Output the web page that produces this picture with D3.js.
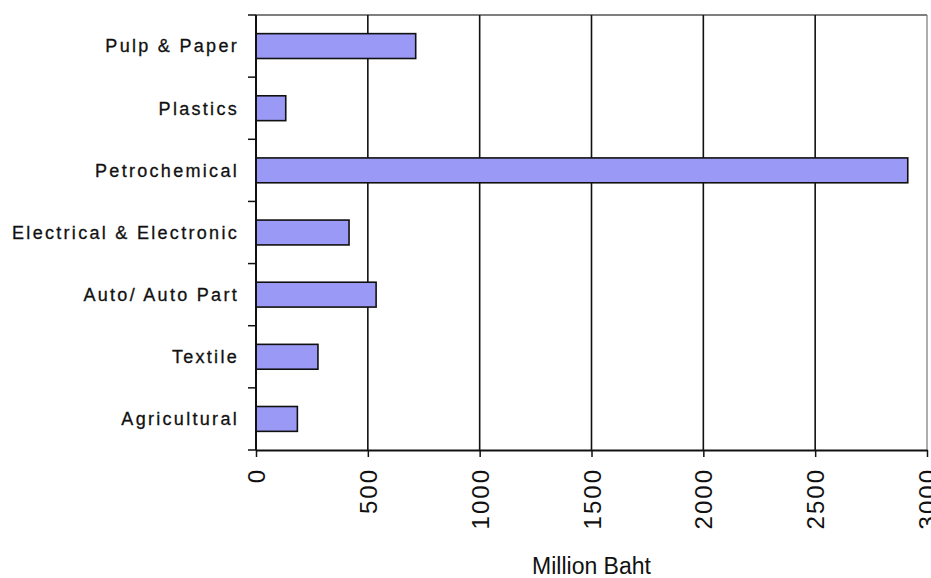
<!DOCTYPE html>
<html>
<head>
<meta charset="utf-8">
<script src="https://cdn.jsdelivr.net/npm/d3@7"></script>
<style>
  html, body { margin: 0; padding: 0; background: #ffffff; }
  svg { display: block; }
  text { font-family: "Liberation Sans", Arial, sans-serif; fill: #111; }
</style>
</head>
<body>
<svg id="chart" width="931" height="578"></svg>
<script>
const categories = ["Pulp & Paper", "Plastics", "Petrochemical", "Electrical & Electronic", "Auto/ Auto Part", "Textile", "Agricultural"];
const values = [714, 133, 2914, 416, 537, 277, 185];
const xTicks = [0, 500, 1000, 1500, 2000, 2500, 3000];
const xTitle = "Million Baht";

(function () {
const W = 931, H = 578;
const margin = { left: 256, right: 4, top: 15, bottom: 128 };
const svg = d3.select("#chart");
const x = d3.scaleLinear().domain([0, 3000]).range([margin.left, W - margin.right]);
const y = d3.scaleBand().domain(categories).range([margin.top, H - margin.bottom]).paddingInner(0.6).paddingOuter(0.3);
const yEdge = d3.scaleBand().domain(categories).range([margin.top, H - margin.bottom]).padding(0);

const yTop = margin.top, yBottom = H - margin.bottom;

// plot border (top and right)
svg.append("line").attr("x1", x(0)).attr("x2", x(3000)).attr("y1", yTop).attr("y2", yTop)
  .attr("stroke", "#555").attr("stroke-width", 1.5);
svg.append("line").attr("x1", x(3000)).attr("x2", x(3000)).attr("y1", yTop).attr("y2", yBottom)
  .attr("stroke", "#777").attr("stroke-width", 1.2);

// gridlines
svg.append("g").selectAll("line").data(xTicks.filter(d => d > 0 && d < 3000)).join("line")
  .attr("x1", d => x(d)).attr("x2", d => x(d)).attr("y1", yTop).attr("y2", yBottom)
  .attr("stroke", "#111").attr("stroke-width", 1.6);

// bars
svg.append("g").selectAll("rect").data(categories).join("rect")
  .attr("x", x(0))
  .attr("y", d => y(d))
  .attr("width", (d, i) => x(values[i]) - x(0))
  .attr("height", y.bandwidth())
  .attr("fill", "#9a9af6")
  .attr("stroke", "#111")
  .attr("stroke-width", 1.6);

// x axis
const xAxis = d3.axisBottom(x).tickValues(xTicks).tickSize(7).tickSizeOuter(0).tickFormat(d3.format("d"));
const gx = svg.append("g").attr("transform", `translate(0,${yBottom})`).call(xAxis);
gx.select(".domain").attr("stroke", "#111").attr("stroke-width", 2);
gx.selectAll(".tick line").attr("stroke", "#111").attr("stroke-width", 1.5);
gx.selectAll(".tick text")
  .attr("font-size", 24)
  .attr("letter-spacing", "2px")
  .attr("text-anchor", "end")
  .attr("transform", "rotate(-90)")
  .attr("x", -18)
  .attr("y", 0)
  .attr("dy", "0.36em")
  .attr("fill", "#111");

// y axis (ticks at band edges)
svg.append("line").attr("x1", x(0)).attr("x2", x(0)).attr("y1", yTop).attr("y2", yBottom)
  .attr("stroke", "#111").attr("stroke-width", 2);
const edges = categories.map(c => yEdge(c)).concat([yBottom]);
svg.append("g").selectAll("line").data(edges).join("line")
  .attr("x1", x(0) - 8).attr("x2", x(0)).attr("y1", d => d).attr("y2", d => d)
  .attr("stroke", "#111").attr("stroke-width", 1.5);

svg.append("g").selectAll("text").data(categories).join("text")
  .attr("x", x(0) - 17)
  .attr("y", d => yEdge(d) + yEdge.bandwidth() / 2)
  .attr("dy", "0.35em")
  .attr("text-anchor", "end")
  .attr("font-size", 18)
  .attr("letter-spacing", "2.3px")
  .attr("stroke", "#111")
  .attr("stroke-width", 0.3)
  .text(d => d);

// x title
svg.append("text")
  .attr("x", (x(0) + x(3000)) / 2)
  .attr("y", 574)
  .attr("text-anchor", "middle")
  .attr("font-size", 23)
  .text(xTitle);
})();
</script>
</body>
</html>
